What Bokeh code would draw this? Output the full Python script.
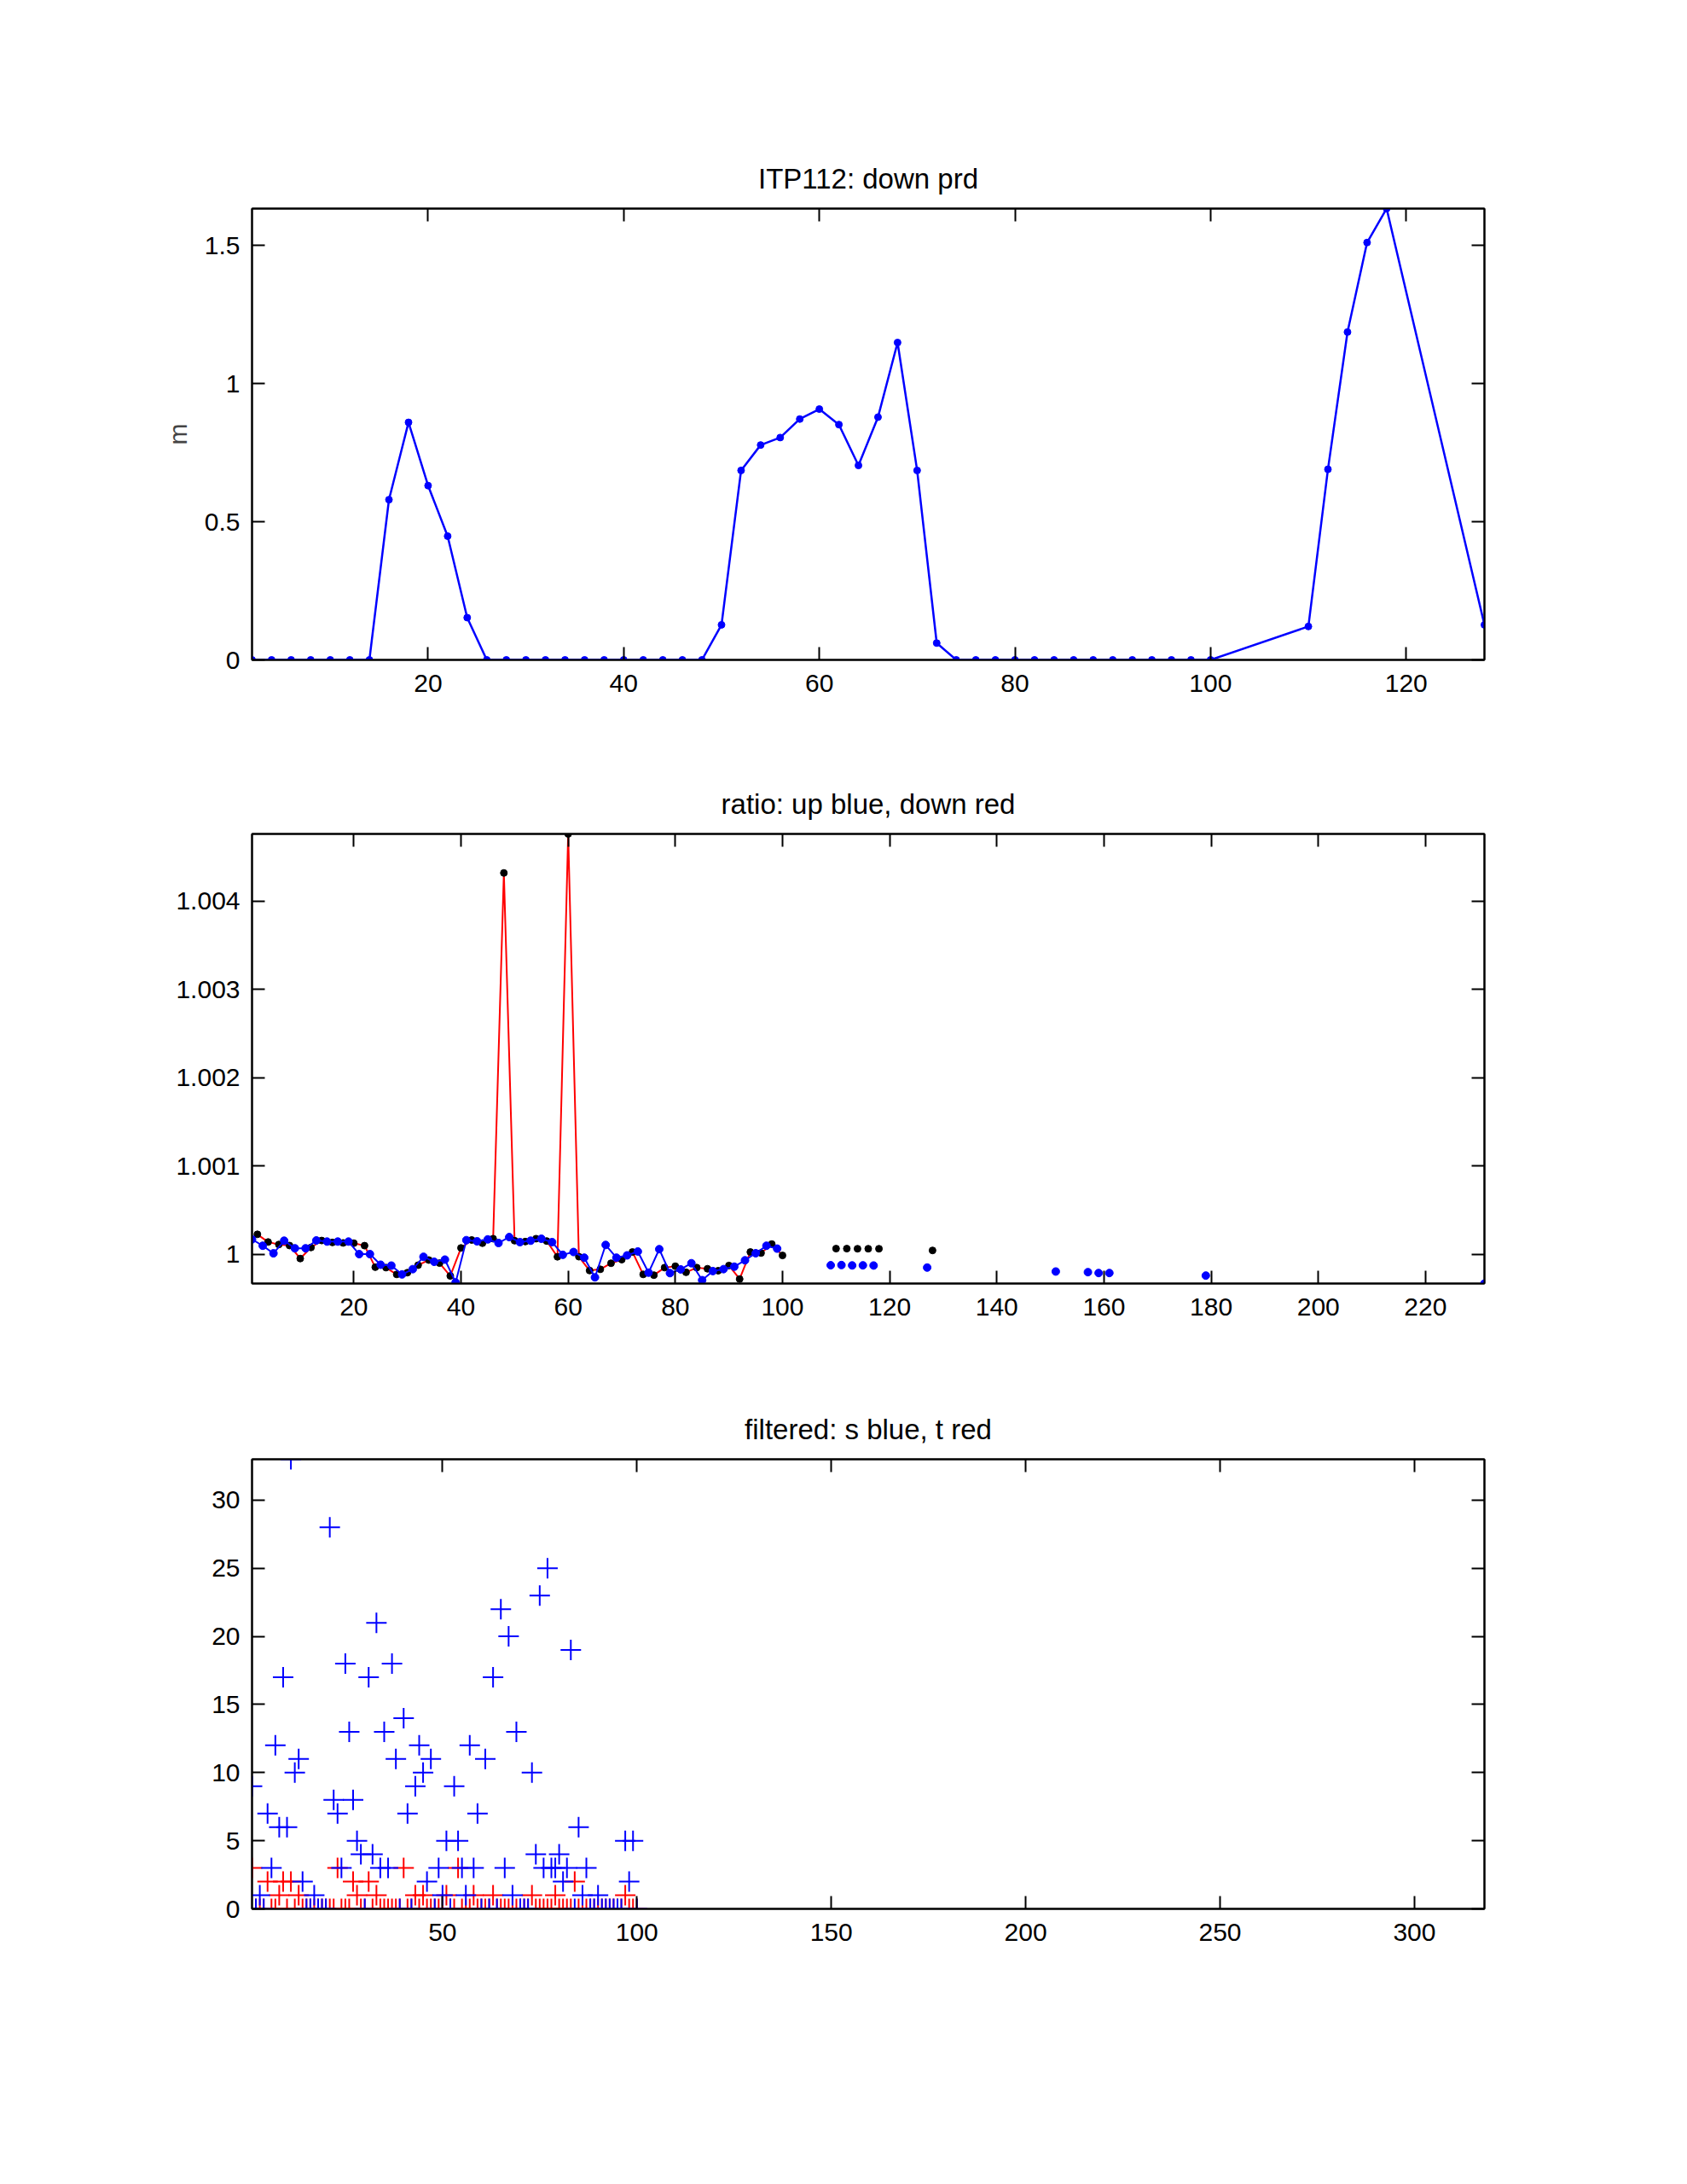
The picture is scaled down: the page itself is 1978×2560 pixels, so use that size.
from bokeh.plotting import figure
from bokeh.models import Range1d, FixedTicker, LinearAxis, CustomJSTickFormatter
from bokeh.layouts import column
from bokeh.embed import file_html
from bokeh.resources import INLINE

# ---------------- data ----------------
# Panel 1: down-profile pressure (m)
prd_x = [2, 4, 6, 8, 10, 12, 14, 16, 18, 20, 22, 24, 26, 28, 30, 32, 34, 36, 38, 40,
         42, 44, 46, 48, 50, 52, 54, 56, 58, 60, 62, 64, 66, 68, 70, 72, 74, 76, 78, 80,
         82, 84, 86, 88, 90, 92, 94, 96, 98, 100, 110, 112, 114, 116, 118, 128]
prd_m = [0, 0, 0, 0, 0, 0, 0, 0.580, 0.860, 0.631, 0.448, 0.153, 0, 0, 0, 0, 0, 0, 0, 0,
         0, 0, 0, 0, 0.127, 0.686, 0.778, 0.805, 0.872, 0.908, 0.852, 0.704, 0.879, 1.149, 0.686, 0.061, 0, 0, 0, 0,
         0, 0, 0, 0, 0, 0, 0, 0, 0, 0, 0.121, 0.690, 1.187, 1.511, 1.634, 0.127]

# Panel 2: ratio, up (blue) and down (red line, black dots)
up_x = [1, 3, 5, 7, 9, 11, 13, 15, 17, 19, 21, 23, 25, 27, 29, 31, 33, 35, 37, 39,
        41, 43, 45, 47, 49, 51, 53, 55, 57, 59, 61, 63, 65, 67, 69, 71, 73, 75, 77, 79,
        81, 83, 85, 87, 89, 91, 93, 95, 97, 99]
up_ratio = [1.000167, 1.000095, 1.000009, 1.000152, 1.000066, 1.000066, 1.000155, 1.000142, 1.000142, 1.000142,
            1.000000, 1.000000, 0.999880, 0.999870, 0.999770, 0.999830, 0.999970, 0.999913, 0.999938, 0.999680,
            1.000158, 1.000145, 1.000167, 1.000126, 1.000193, 1.000136, 1.000152, 1.000174, 1.000136, 0.999992,
            1.000024, 0.999960, 0.999737, 1.000104, 0.999960, 0.999986, 1.000030, 0.999790, 1.000056, 0.999785,
            0.999827, 0.999897, 0.999705, 0.999808, 0.999830, 0.999858, 0.999930, 1.000010, 1.000095, 1.000062]
down_x = [2, 4, 6, 8, 10, 12, 14, 16, 18, 20, 22, 24, 26, 28, 30, 32, 34, 36, 38, 40,
          42, 44, 46, 48, 50, 52, 54, 56, 58, 60, 62, 64, 66, 68, 70, 72, 74, 76, 78, 80,
          82, 84, 86, 88, 90, 92, 94, 96, 98, 100]
down_ratio = [1.000224, 1.000137, 1.000109, 1.000097, 0.999950, 1.000075, 1.000154, 1.000132, 1.000127, 1.000124,
              1.000096, 0.999852, 0.999847, 0.999770, 0.999790, 0.999875, 0.999933, 0.999898, 0.999753, 1.000070,
              1.000160, 1.000124, 1.000175, 1.004317, 1.000152, 1.000142, 1.000175, 1.000148, 0.999970, 1.004759,
              0.999971, 0.999814, 0.999828, 0.999897, 0.999938, 1.000024, 0.999770, 0.999762, 0.999847, 0.999863,
              0.999794, 0.999847, 0.999834, 0.999812, 0.999871, 0.999718, 1.000024, 1.000013, 1.000114, 0.999985]
up_extra_x = [109, 111, 113, 115, 117, 127, 151, 157, 159, 161, 179, 231]
up_extra_ratio = [0.999874, 0.999876, 0.999872, 0.999873, 0.999871, 0.999848,
                  0.999803, 0.999796, 0.999786, 0.999786, 0.999757, 0.999667]
down_extra_x = [110, 112, 114, 116, 118, 128]
down_extra_ratio = [1.000062, 1.000062, 1.000061, 1.000061, 1.000061, 1.000042]

# Panel 3: filtered counts, s (blue) and t (red)
filt_x = [1, 2, 3, 4, 5, 6, 7, 8, 9, 10, 11, 12, 13, 14, 15, 16, 17, 18, 19, 20,
          21, 22, 23, 24, 25, 26, 27, 28, 29, 30, 31, 32, 33, 34, 35, 36, 37, 38, 39, 40,
          41, 42, 43, 44, 45, 46, 47, 48, 49, 50, 51, 52, 53, 54, 55, 56, 57, 58, 59, 60,
          61, 62, 63, 64, 65, 66, 67, 68, 69, 70, 71, 72, 73, 74, 75, 76, 77, 78, 79, 80,
          81, 82, 83, 84, 85, 86, 87, 88, 89, 90, 91, 92, 93, 94, 95, 96, 97, 98, 99, 100]
filt_s = [9, 0, 1, 0, 7, 3, 12, 6, 17, 6, 33, 10, 11, 2, 0, 0, 1, 0, 0, 0,
          28, 8, 7, 3, 18, 13, 8, 5, 4, 0, 17, 4, 21, 3, 13, 3, 18, 11, 0, 14,
          7, 0, 9, 12, 10, 2, 11, 0, 3, 1, 5, 0, 9, 5, 3, 1, 12, 3, 7, 0,
          11, 0, 17, 0, 22, 3, 20, 1, 13, 0, 0, 0, 10, 4, 23, 3, 25, 3, 3, 4,
          2, 3, 19, 0, 6, 1, 3, 0, 0, 1, 0, 0, 0, 0, 0, 0, 5, 2, 5, 0]
filt_t = [3, 0, 0, 0, 2, 0, 0, 1, 2, 0, 2, 0, 1, 0, 0, 0, 0, 0, 0, 0,
          0, 0, 3, 0, 0, 0, 2, 1, 0, 0, 2, 0, 1, 0, 0, 0, 0, 0, 0, 3,
          0, 0, 1, 0, 1, 0, 0, 0, 0, 0, 1, 0, 0, 3, 0, 0, 0, 1, 0, 0,
          0, 0, 1, 0, 0, 0, 0, 0, 0, 0, 0, 0, 1, 0, 0, 0, 0, 0, 1, 0,
          0, 0, 0, 2, 0, 0, 0, 0, 0, 0, 0, 0, 0, 0, 0, 0, 1, 0, 0, 0]

# tick positions
p1_xticks = [20, 40, 60, 80, 100, 120]
p1_yticks = [0, 0.5, 1, 1.5]
p2_xticks = [20, 40, 60, 80, 100, 120, 140, 160, 180, 200, 220]
p2_yticks = [1, 1.001, 1.002, 1.003, 1.004]
p3_xticks = [50, 100, 150, 200, 250, 300]
p3_yticks = [0, 5, 10, 15, 20, 25, 30]

# ---------------- styling helpers ----------------
FONT = "Liberation Sans"
TICK_FS = "30px"
TITLE_FS = "33px"
FMT = "return Number(tick.toFixed(4)).toString();"
EMPTY_FMT = "return '';"


def style_axis(ax, ticks, show_labels=True):
    ax.ticker = FixedTicker(ticks=ticks)
    ax.major_tick_in = 15
    ax.major_tick_out = 0
    ax.major_tick_line_width = 2
    ax.major_tick_line_color = "black"
    ax.minor_tick_line_color = None
    ax.axis_line_width = 2
    ax.axis_line_color = "black"
    ax.major_label_text_font = FONT
    if show_labels:
        ax.formatter = CustomJSTickFormatter(code=FMT)
        ax.major_label_text_color = "black"
        ax.major_label_text_font_size = TICK_FS
        ax.major_label_standoff = 14
    else:
        ax.formatter = CustomJSTickFormatter(code=EMPTY_FMT)
        ax.major_label_text_color = None
        ax.major_label_text_font_size = "1px"
        ax.major_label_standoff = 0


def make_fig(height, top_border, xr, yr, xticks, yticks, title):
    p = figure(width=1960, height=height,
               x_range=Range1d(*xr), y_range=Range1d(*yr),
               output_backend="svg", toolbar_location=None,
               min_border_left=295, min_border_right=220,
               min_border_top=top_border, min_border_bottom=100)
    p.grid.visible = False
    p.outline_line_color = "black"
    p.outline_line_width = 2
    p.background_fill_color = "white"
    p.border_fill_color = "white"
    style_axis(p.xaxis[0], xticks)
    p.xaxis[0].major_label_standoff = 17
    style_axis(p.yaxis[0], yticks)
    top = LinearAxis()
    style_axis(top, xticks, show_labels=False)
    p.add_layout(top, "above")
    right = LinearAxis()
    style_axis(right, yticks, show_labels=False)
    p.add_layout(right, "right")
    p.title.text = title
    p.title.align = "center"
    p.title.text_font = FONT
    p.title.text_font_size = TITLE_FS
    p.title.text_font_style = "normal"
    p.title.text_color = "black"
    p.title.standoff = 33
    return p


BLUE = "#0000ff"
RED = "#ff0000"

# ---------------- panel 1 ----------------
p1 = make_fig(873, 244, (2, 128), (0, 1.634), p1_xticks, p1_yticks, "ITP112: down prd")
p1.yaxis[0].axis_label = "m"
p1.yaxis[0].axis_label_text_font = FONT
p1.yaxis[0].axis_label_text_font_size = TICK_FS
p1.yaxis[0].axis_label_text_font_style = "normal"
p1.yaxis[0].axis_label_standoff = 12
p1.line(prd_x, prd_m, line_color=BLUE, line_width=2.5)
p1.scatter(prd_x, prd_m, marker="circle", size=8, fill_color=BLUE, line_color=BLUE)

# ---------------- panel 2 ----------------
p2 = make_fig(731, 104, (1, 231), (0.999667, 1.004759), p2_xticks, p2_yticks,
              "ratio: up blue, down red")
p2.line(down_x, down_ratio, line_color=RED, line_width=2)
p2.scatter(down_x, down_ratio, marker="circle", size=8, fill_color="black", line_color="black")
p2.scatter(down_extra_x, down_extra_ratio, marker="circle", size=8, fill_color="black", line_color="black")
p2.line(up_x, up_ratio, line_color=BLUE, line_width=2)
p2.scatter(up_x, up_ratio, marker="circle", size=9, fill_color=BLUE, line_color=BLUE)
p2.scatter(up_extra_x, up_extra_ratio, marker="circle", size=9, fill_color=BLUE, line_color=BLUE)

# ---------------- panel 3 ----------------
p3 = make_fig(733, 106, (1, 318), (0, 33), p3_xticks, p3_yticks, "filtered: s blue, t red")
p3.scatter(filt_x, filt_t, marker="cross", size=24, line_color=RED, line_width=2)
p3.scatter(filt_x, filt_s, marker="cross", size=24, line_color=BLUE, line_width=2)

layout = column(p1, p2, p3, spacing=0)
open("out.html", "w").write(file_html(layout, INLINE))
